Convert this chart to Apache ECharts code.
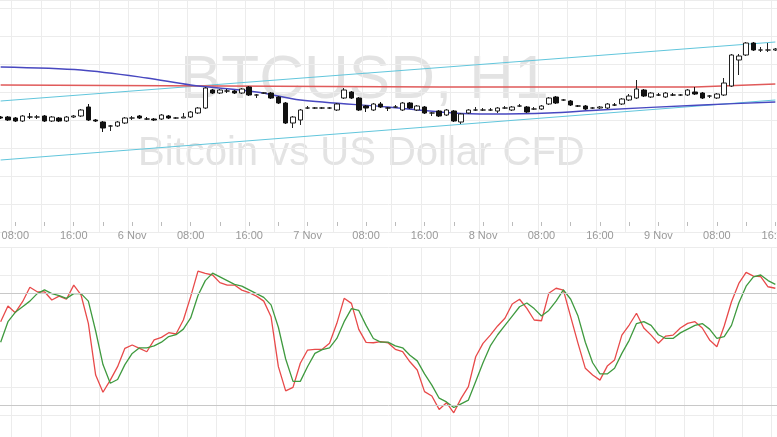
<!DOCTYPE html>
<html lang="en">
  <head>
    <meta charset="UTF-8" />
    <title>BTCUSD H1</title>
    <script src="https://cdn.jsdelivr.net/npm/echarts@6/dist/echarts.min.js"></script>
    <style>
      html, body { margin: 0; padding: 0; background: #fff; }
    </style>
  </head>
  <body>
    <div id="chart" style="width: 777px; height: 437px"></div>
    <script>
      // hourly candles, 5 Nov 06:00 -> 9 Nov 16:00 : [open, close, low, high]
      const candles = [
        [7283,7282,7281,7284],[7283,7280,7279,7284],[7282,7279,7278,7283],
        [7279,7284,7278,7285],[7283,7283,7281,7287],[7283,7283,7281,7285],[7284,7279,7278,7285],
        [7279,7283,7278,7284],[7282,7279,7278,7283],[7279,7283,7278,7284],[7283,7284,7282,7285],
        [7284,7290,7283,7291],[7293,7280,7279,7296],[7280,7279,7278,7281],[7278,7272,7268,7279],
        [7274,7274,7269,7275],[7274,7278,7273,7279],[7277,7282,7276,7283],[7282,7282,7280,7284],
        [7284,7282,7281,7285],[7281,7281,7280,7283],[7281,7280,7279,7282],[7281,7285,7280,7286],
        [7284,7282,7281,7285],[7282,7282,7281,7283],[7282,7283,7282,7287],[7283,7288,7282,7289],
        [7287,7292,7286,7293],[7292,7312,7291,7313],[7310,7307,7306,7311],[7307,7310,7306,7311],
        [7309,7309,7307,7311],[7309,7307,7306,7310],[7307,7311,7306,7312],[7313,7305,7304,7314],
        [7305,7305,7302,7306],[7307,7307,7306,7308],[7307,7302,7301,7308],[7303,7297,7296,7304],
        [7297,7277,7276,7298],[7277,7283,7272,7284],[7280,7290,7275,7291],[7292,7292,7291,7294],
        [7292,7292,7291,7293],[7292,7292,7291,7293],[7292,7292,7291,7293],[7290,7296,7289,7297],
        [7302,7310,7301,7312],[7308,7302,7301,7309],[7302,7290,7289,7303],[7294,7292,7288,7295],
        [7290,7296,7289,7297],[7296,7293,7292,7298],[7292,7292,7289,7293],[7293,7293,7292,7295],
        [7290,7297,7289,7298],[7297,7292,7291,7298],[7290,7294,7289,7295],[7293,7287,7286,7294],
        [7287,7287,7284,7288],[7289,7284,7283,7290],[7285,7290,7284,7291],[7289,7279,7278,7290],
        [7278,7286,7276,7287],[7287,7290,7286,7291],[7290,7290,7289,7293],[7290,7290,7289,7292],
        [7290,7290,7289,7292],[7289,7292,7287,7293],[7292,7292,7291,7294],[7290,7293,7289,7294],
        [7294,7294,7293,7296],[7293,7288,7287,7294],[7291,7291,7290,7293],[7291,7294,7290,7295],
        [7296,7302,7295,7303],[7303,7297,7296,7304],[7300,7300,7299,7301],[7299,7295,7294,7300],
        [7294,7294,7293,7295],[7294,7291,7290,7295],[7292,7292,7291,7293],[7292,7293,7291,7294],
        [7292,7296,7291,7297],[7295,7295,7294,7297],[7296,7301,7295,7302],[7300,7304,7299,7306],
        [7302,7311,7301,7320],[7310,7304,7303,7311],[7303,7307,7302,7308],[7305,7305,7304,7307],
        [7303,7307,7302,7308],[7305,7305,7304,7307],[7305,7305,7304,7306],[7305,7310,7304,7311],
        [7308,7306,7305,7313],[7307,7302,7301,7308],[7304,7304,7302,7305],[7302,7306,7301,7307],
        [7305,7317,7304,7322],[7314,7345,7313,7346],[7340,7344,7325,7346],[7345,7357,7344,7358],
        [7357,7350,7349,7358],[7350,7350,7348,7353],[7350,7350,7348,7357],[7350,7351,7349,7352]
      ];

      // moving averages and trend lines as [candle index, price]
      const maSlow = [[0,7315],[30,7314],[60,7313],[95,7313],[106,7316]];
      const maFast = [[0,7333],[11,7330],[20,7322],[26,7315],[35,7308],[41,7300],[53,7293],
                      [62,7287],[67,7286],[75,7287],[82,7290],[96,7295],[106,7298]];
      const channelTop = [[0,7299],[106,7358]];
      const channelBottom = [[0,7240],[106,7300]];

      // stochastic %K and %D
      const stochK = [
        65,73.4,69.8,75.7,83.4,81,81,76.6,78.7,77,
        84.6,79.3,64.1,36.4,27.2,33.7,40.9,50.7,52.5,50.7,
        48.9,55.2,56.6,59.1,58.4,65.9,78.4,92.1,90.9,90,
        85.9,84.6,84.6,81.9,80.5,78.7,76,67.6,40.9,27.9,
        29.8,42.7,49.8,50.2,50.2,53.4,64.1,77.5,74.8,60.9,
        53.9,53.7,54.3,53.7,50.2,48.9,43.5,39.1,27.5,25.2,
        18,21.6,16.2,23.9,30.2,46.2,53.4,57.8,62.7,66.8,
        74.5,77,72.1,65.9,65.5,80.2,82.9,81.9,67.6,53.4,
        40,36.4,33.7,41.2,44.5,57.8,63.2,69.5,61.6,57.8,
        53.4,57.3,57.8,61.6,64.1,65,61.6,55.2,51.6,62.7,
        75.7,85.5,91.4,89.4,89.1,83.7,82.9
      ];
      const stochD = [
        54,65,70,73,76,80,82,80,79,77.5,
        80,80,76,60,42,32,34,42,48,51,
        51,52,54,57,58,61,67,79,87,91,
        89,87,85,84,82,80,78,74,62,45,
        33,33,41,48,50,51,56,65,72,71,
        63,56,54,54,52,51,47,44,37,31,
        24,22,19,21,23,33,43,52,58,63,
        68,73,75,72,68,71,76,82,77,68,
        54,43,37,37,40,48,55,64,65,63,
        58,56,56,59,61,63,64,61,56,57,
        63,75,84,89,90,87,85
      ];

      const tickDays = ["5 Nov", "6 Nov", "7 Nov", "8 Nov", "9 Nov", "10 Nov"];
      const hours = candles.map((c, i) => {
        const h = (6 + i) % 24;
        return h === 0 ? tickDays[Math.floor((6 + i) / 24)] : String(h).padStart(2, "0") + ":00";
      });

      const gridColor = "#ececec";
      const everyFour = (i) => (i - 2) % 4 === 0;
      const chart = echarts.init(document.getElementById("chart"));

      chart.setOption({
        animation: false,
        graphic: [
          {
            type: "text", left: 180, top: 50, z: 0, silent: true,
            style: { text: "BTCUSD, H1", font: "62px 'Liberation Sans', Arial", fill: "#e3e3e3" }
          },
          {
            type: "text", left: 138, top: 134, z: 0, silent: true,
            style: { text: "Bitcoin vs US Dollar CFD", font: "40px 'Liberation Sans', Arial", fill: "#e3e3e3" }
          }
        ],
        grid: [
          { left: -3, right: -2, top: 0, bottom: 205, outerBoundsMode: "none" },
          { left: -3, right: -2, top: 247, bottom: -6, outerBoundsMode: "none" }
        ],
        xAxis: [
          {
            type: "category", gridIndex: 0, data: hours, boundaryGap: true, offset: -10,
            axisLine: { show: false },
            axisTick: { show: true, alignWithLabel: true, length: 4, lineStyle: { color: "#bbb" }, interval: everyFour },
            axisLabel: { color: "#999", fontSize: 11, fontFamily: "Liberation Sans", interval: (i) => (i - 2) % 8 === 0 },
            splitLine: { show: true, lineStyle: { color: gridColor }, interval: everyFour }
          },
          {
            type: "category", gridIndex: 1, data: hours, boundaryGap: true,
            axisLine: { show: false }, axisTick: { show: false, alignWithLabel: true, interval: everyFour },
            axisLabel: { show: false, interval: everyFour },
            splitLine: { show: true, lineStyle: { color: gridColor }, interval: everyFour }
          }
        ],
        yAxis: [
          {
            type: "value", gridIndex: 0, min: 7168, max: 7400, interval: 28,
            axisLabel: { show: false }, axisLine: { show: false }, axisTick: { show: false },
            splitLine: { lineStyle: { color: gridColor } }
          },
          {
            type: "value", gridIndex: 1, min: 0, max: 105, interval: 15,
            axisLabel: { show: false }, axisLine: { show: false }, axisTick: { show: false },
            splitLine: { lineStyle: { color: gridColor } }
          }
        ],
        series: [
          {
            type: "line", data: channelTop, symbol: "none", z: 3,
            lineStyle: { color: "#62c6dc", width: 1.2 }
          },
          {
            type: "line", data: channelBottom, symbol: "none", z: 3,
            lineStyle: { color: "#62c6dc", width: 1.2 }
          },
          {
            type: "line", data: maSlow, symbol: "none", z: 3,
            lineStyle: { color: "#e05a5a", width: 1.4 }
          },
          {
            type: "line", data: maFast, symbol: "none", smooth: 0.3, z: 3,
            lineStyle: { color: "#4848c0", width: 1.4 }
          },
          {
            type: "candlestick", data: candles, barWidth: 5, z: 4,
            itemStyle: { color: "#fff", color0: "#111", borderColor: "#222", borderColor0: "#111", borderWidth: 1 }
          },
          {
            type: "line", xAxisIndex: 1, yAxisIndex: 1, data: stochK, symbol: "none",
            lineStyle: { color: "#e84a4a", width: 1.3 },
            markLine: {
              silent: true, symbol: "none", label: { show: false },
              lineStyle: { color: "#c8c8c8", type: "solid", width: 1 },
              data: [{ yAxis: 80 }, { yAxis: 20 }]
            }
          },
          {
            type: "line", xAxisIndex: 1, yAxisIndex: 1, data: stochD, symbol: "none",
            lineStyle: { color: "#3f9a3f", width: 1.3 }
          }
        ]
      });
    </script>
  </body>
</html>
